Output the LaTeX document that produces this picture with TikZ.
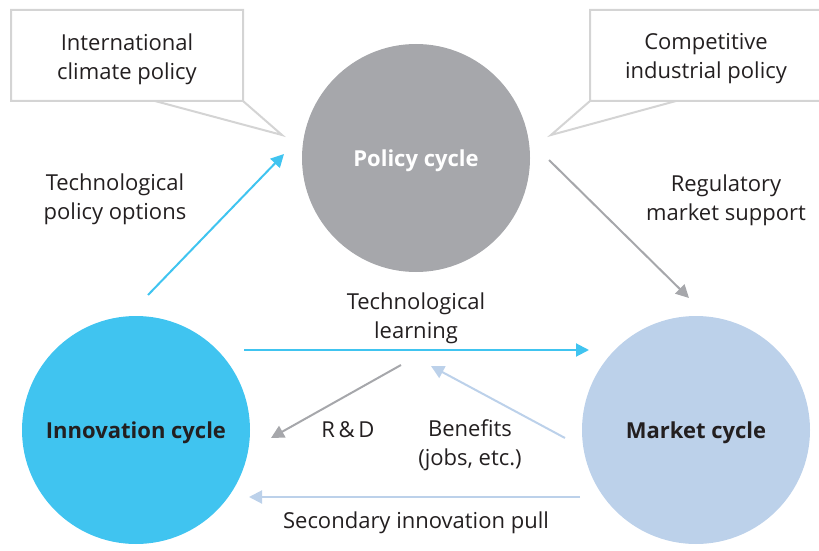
\documentclass[tikz,border=0pt]{standalone}
\usepackage{fontspec}
\setmainfont{Open Sans}
\usetikzlibrary{arrows.meta}
\definecolor{policygray}{RGB}{166,167,171}
\definecolor{innoblue}{RGB}{64,196,240}
\definecolor{marketblue}{RGB}{188,209,234}
\definecolor{calloutgray}{RGB}{212,212,212}
\definecolor{textdark}{RGB}{35,31,32}

\begin{document}
\begin{tikzpicture}[x=0.5pt, y=-0.5pt, font=\fontsize{11}{14.5}\selectfont, text=textdark,
    cyclenode/.style={circle, minimum size=114pt, inner sep=0pt},
    cyclename/.style={font=\fontsize{11}{14.5}\selectfont\bfseries},
    flow/.style={line width=1pt, -{Triangle[length=6.5pt,width=6.5pt]}},
    note/.style={align=center}]
    \useasboundingbox (0,0) rectangle (819,551);
    \clip (0,0) rectangle (819,551);
    %Callouts
    \draw[calloutgray, line width=1pt] (11,10) rectangle (243,101) (155,101) -- (282,135) -- (243,101);
    \draw[calloutgray, line width=1pt] (590,10) rectangle (830,101) (676,101) -- (551,135) -- (590,101);
    \node[note] (intl) at (127,59) {International\\climate policy};
    \node[note] (indus) at (706,59) {Competitive\\industrial policy};
    %Cycles
    \node[cyclenode, fill=policygray] (policy) at (416,158) {};
    \node[cyclenode, fill=innoblue] (inno) at (136,430) {};
    \node[cyclenode, fill=marketblue] (market) at (696,430) {};
    \node[cyclename, text=white] (policylbl) at (416,161) {Policy cycle};
    \node[cyclename] (innolbl) at (136,433) {Innovation cycle};
    \node[cyclename] (marketlbl) at (696,433) {Market cycle};
    %Arrow ends
    \coordinate (ip0) at (148,295); \coordinate (ip1) at (284,154);
    \coordinate (pm0) at (549,160); \coordinate (pm1) at (689,298);
    \coordinate (im0) at (244,350); \coordinate (im1) at (589,350);
    \coordinate (rd0) at (401,365); \coordinate (rd1) at (271,438);
    \coordinate (bf0) at (565,438); \coordinate (bf1) at (431,366);
    \coordinate (mi0) at (580,497); \coordinate (mi1) at (249,497);
    \draw[flow, innoblue] (ip0) -- (ip1);
    \draw[flow, policygray] (pm0) -- (pm1);
    \draw[flow, innoblue] (im0) -- (im1);
    \draw[flow, policygray] (rd0) -- (rd1);
    \draw[flow, marketblue] (bf0) -- (bf1);
    \draw[flow, marketblue] (mi0) -- (mi1);
    %Labels
    \node[note] (tpo) at (115,199) {Technological\\policy options};
    \node[note] (rms) at (726,200) {Regulatory\\market support};
    \node[note] (tl) at (416,318) {Technological\\learning};
    \node[note] (rd) at (348,430) {R\,\&\,D};
    \node[note] (ben) at (470,445) {Benefits\\(jobs, etc.)};
    \node[note] (sip) at (416,523) {Secondary innovation pull};
\end{tikzpicture}
\end{document}
